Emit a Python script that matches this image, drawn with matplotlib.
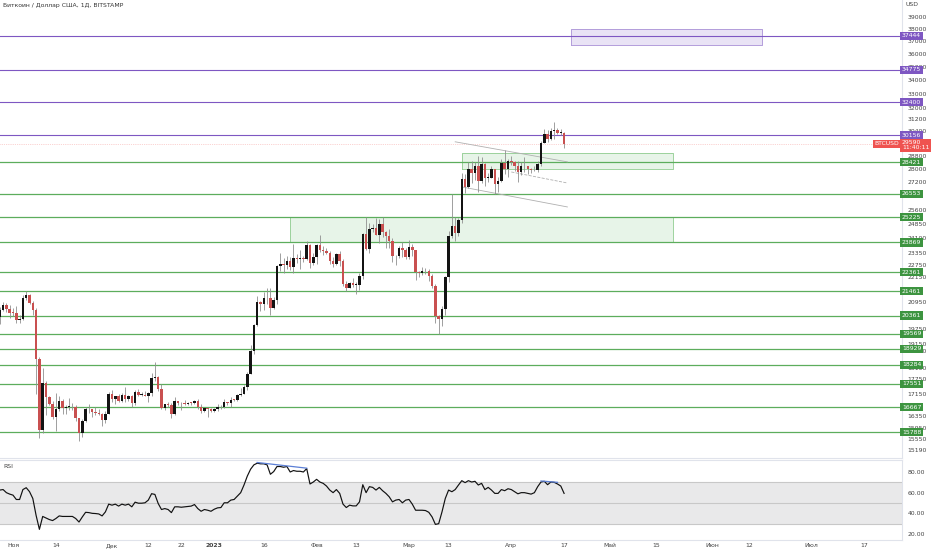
import numpy as np
import matplotlib
matplotlib.use('Agg')
import matplotlib.pyplot as plt
import matplotlib.dates as mdates
import matplotlib.transforms as mtransforms

# --- data (daily BTC/USD, Bitstamp) ---
start_day = '2022-10-28'
end_day = '2023-04-18'

opens = [20290, 20590, 20820, 20630,
         20490, 20480, 20150, 20210, 21150, 21300, 20910, 20590, 18540, 15880, 17590, 17050, 16810, 16330, 16620,
         16900, 16660, 16690, 16700, 16680, 16280, 15780, 16190, 16610, 16600, 16520, 16460, 16440, 16220, 16440,
         17160, 16980, 17090, 16890, 17110, 16970, 17090, 16840, 17220, 17130, 17130, 17090, 17200, 17780, 17810,
         17360, 16630, 16780, 16740, 16440, 16900, 16820, 16830, 16780, 16840, 16830, 16910, 16700, 16540, 16630, 16600,
         16540, 16610, 16670, 16670, 16850, 16830, 16950, 16940, 17120, 17180, 17440, 17940, 18850, 19930, 20960,
         20880, 21170, 21140, 20680, 21080, 22680, 22780, 22710, 22920, 22630, 23060, 23010, 23080, 23030, 23750, 22840,
         23130, 23730, 23480, 23430, 23330, 22930, 22760, 23260, 22950, 21800, 21630, 21860, 21780, 21780, 22200,
         24330, 23530, 24570, 24630, 24280, 24840, 24440, 24190, 23940, 23180, 23160, 23560, 23490,
         23150, 23650, 23470, 22360, 22350, 22430, 22410, 22200, 21700, 20360, 20190, 20630, 22160, 24200, 24750,
         24380, 25060, 27420, 26960, 28040, 27770, 28170, 27300, 28330, 27490, 27490, 28000, 27140, 27270, 28350, 28030,
         28480, 28450, 28200, 27810, 28170, 28170, 28040, 27920, 27950, 28330, 29660, 30240, 29890, 30400, 30490,
         30320, 30320]
highs = [20750, 20990, 20920, 20840,
         20700, 20800, 20390, 21300, 21470, 21360, 21000, 20680, 18590, 18150, 17660, 17080, 16920, 17190, 17080,
         16980, 16760, 17010, 16820, 16740, 16300, 16250, 16680, 16800, 16610, 16700, 16600, 16480, 16530, 17240,
         17320, 17100, 17160, 17200, 17420, 17110, 17140, 17300, 17350, 17230, 17260, 17240, 17970, 18390, 17850,
         17530, 16800, 16870, 16820, 17060, 16920, 16880, 16950, 16870, 16870, 16950, 16960, 16780, 16660, 16640, 16640,
         16630, 16790, 16760, 16980, 16880, 17040, 16980, 17180, 17390, 17490, 18000, 19100, 19980, 21260, 21020,
         21450, 21620, 21640, 21180, 22750, 23330, 23080, 23180, 23150, 23800, 23290, 23500, 23160, 23960, 23800, 23320,
         23780, 24250, 23700, 23580, 23430, 23150, 23350, 23440, 23010, 21930, 21900, 22090, 21890, 22320, 24380,
         25250, 24880, 24870, 25180, 25120, 25250, 24480, 24600, 24130, 23210, 23680, 23880, 23600,
         23980, 23780, 23480, 22410, 22620, 22560, 22540, 22270, 21830, 20370, 20800, 22180, 24500, 26500, 25250,
         25200, 27750, 27730, 28430, 28500, 28470, 28800, 28770, 28380, 27790, 28190, 28020, 27500, 28650, 29170, 28650,
         28800, 28500, 28480, 28440, 28760, 28180, 28100, 28170, 28480, 29770, 30560, 30470, 30600, 31000, 30600,
         30550, 30340]
lows = [20000, 20560, 20520, 20250,
        20340, 20050, 20050, 20180, 21080, 20880, 20400, 17170, 15590, 15760, 16400, 16750, 16250, 15820, 16540,
        16420, 16420, 16560, 16560, 16180, 15480, 15630, 16160, 16460, 16330, 16410, 16400, 16000, 16110, 16430,
        16860, 16800, 16860, 16880, 16870, 16910, 16680, 16740, 17090, 17100, 17070, 16870, 17080, 17660, 17280,
        16600, 16580, 16670, 16280, 16400, 16750, 16560, 16760, 16760, 16740, 16790, 16600, 16470, 16500, 16340, 16490,
        16500, 16550, 16600, 16660, 16750, 16680, 16910, 16920, 17100, 17150, 17310, 17920, 18720, 19890, 20570,
        20620, 20860, 20400, 20650, 20880, 22420, 22330, 22530, 22460, 22350, 22850, 22540, 22890, 23000, 22560, 22730,
        22760, 23400, 23220, 23260, 22760, 22640, 22730, 22680, 21720, 21460, 21600, 21650, 21350, 21540, 22050,
        23500, 23340, 24440, 24250, 23850, 24160, 23580, 23600, 22860, 22750, 23080, 23110, 23030,
        23030, 23200, 21980, 22140, 22230, 22300, 21960, 21600, 20050, 19570, 19880, 20400, 21900, 24100, 23930,
        24200, 24900, 26600, 26880, 27150, 27370, 26640, 27150, 27020, 27230, 27460, 26520, 26650, 27250, 27700, 27550,
        28250, 27870, 27250, 27670, 27850, 27730, 27790, 27890, 27800, 28170, 29640, 29700, 29850, 29900, 30230,
        30140, 29300]
closes = [20590, 20820, 20630, 20490,
          20480, 20150, 20210, 21150, 21300, 20910, 20590, 18540, 15880, 17590, 17050, 16810, 16330, 16620, 16900,
          16660, 16690, 16700, 16680, 16280, 15780, 16190, 16610, 16600, 16520, 16460, 16440, 16220, 16440, 17160,
          16980, 17090, 16890, 17110, 16970, 17090, 16840, 17220, 17130, 17130, 17090, 17200, 17780, 17810, 17360,
          16630, 16780, 16740, 16440, 16900, 16820, 16830, 16780, 16840, 16830, 16910, 16700, 16540, 16630, 16600, 16540,
          16610, 16670, 16670, 16850, 16830, 16950, 16940, 17120, 17180, 17440, 17940, 18850, 19930, 20960, 20880,
          21170, 21140, 20680, 21080, 22680, 22780, 22710, 22920, 22630, 23060, 23010, 23080, 23030, 23750, 22840, 23130,
          23730, 23480, 23430, 23330, 22930, 22760, 23260, 22950, 21800, 21630, 21860, 21780, 21780, 22200, 24330,
          23530, 24570, 24630, 24280, 24840, 24440, 24190, 23940, 23180, 23160, 23560, 23490, 23150,
          23650, 23470, 22360, 22350, 22430, 22410, 22200, 21700, 20360, 20190, 20630, 22160, 24200, 24750, 24380,
          25060, 27420, 26960, 28040, 27770, 28170, 27300, 28330, 27490, 27490, 28000, 27140, 27270, 28350, 28030, 28480,
          28450, 28200, 27810, 28170, 28170, 28040, 27920, 27950, 28330, 29660, 30240, 29890, 30400, 30490, 30320,
          30320, 29590]
rsi = [62.5, 63, 60, 58.6,
       57.6, 53.4, 53.4, 63, 64.8, 61, 54.4, 38, 24.5, 37, 35.5, 34, 33, 35, 37.5, 37, 37, 37, 37, 35, 31.6,
       36.5, 41, 40.7, 40, 39.8, 39.4, 37.5, 41.4, 48.9,
       47.9, 48.9, 47, 48.9, 47.9, 48.9, 46.3, 50.8, 49.8, 49.8, 50.2, 52.8, 59, 58.3, 49.5, 43.7, 44.6, 43.7,
       40.7, 46.3, 46.3, 45.9, 46.3, 46.6, 47, 48.5, 44.6, 42, 43.7, 43, 42,
       44, 45.3, 45.6, 50.2, 50.2, 52.8, 53.4, 56.7, 60, 67.4, 76, 82.7, 86.9, 88.5, 87.9, 87.9, 86.9, 77.8,
       80.4, 85.3, 85.3, 84.6, 85.3, 80, 81.4, 80.7, 80.7, 80, 83.3, 68.4, 70.3,
       72.9, 70.3, 69, 66.4, 62.5, 60, 63, 59.3, 48.9, 45.6, 47.9, 47.2, 47.2, 51.1, 67.7, 60, 65.8, 65.1, 62.5,
       65.1, 61.9, 59.3, 56, 51.1, 52.8, 53.4, 50.2, 52.8,
       53.4, 48.9, 43, 43, 43, 42.7, 41, 36.5, 29.3, 30, 41.4, 54.4, 62.5, 60.9, 63, 67.4, 71.6, 69.7, 71.6,
       70.3, 71, 67.4, 69, 63, 65.1, 62.5, 59.3, 59.3, 63, 61.9, 63.8,
       63, 60.9, 58.9, 60, 60, 59.3, 58.6, 60, 65.8, 70.3, 71, 67.7, 70.3, 70, 68.4, 66.4, 59.3]

purple_levels = [37444, 34775, 32400, 30156]
green_levels = [28421, 26553, 25225, 23869, 22361, 21461, 20361, 19569, 18929, 18284, 17551, 16667, 15788]
last_price = 29590
countdown = '11:40:11'

# price scale labels (those fully hidden behind level badges left out)
price_ticks = [39000, 38000, 37000, 36000, 35000, 34000, 33000, 32000, 31200, 30400, 28800, 28000, 27200,
               25600, 24850, 24100, 23350, 22750, 22150, 20950, 19750, 19150, 18850,
               18150, 17750, 17150, 16350, 15950, 15550, 15190]
rsi_ticks = [80, 60, 40, 20]

xtick_dates = ['2022-11-01', '2022-11-14', '2022-12-01', '2022-12-12', '2022-12-22', '2023-01-01',
               '2023-01-16', '2023-02-01', '2023-02-13', '2023-03-01', '2023-03-13', '2023-04-01',
               '2023-04-17', '2023-05-01', '2023-05-15', '2023-06-01', '2023-06-12', '2023-07-01', '2023-07-17']
xtick_labels = ['Ноя', '14', 'Дек', '12', '22', '2023', '16', 'Фев', '13', 'Мар', '13', 'Апр',
                '17', 'Май', '15', 'Июн', '12', 'Июл', '17']

# drawings: (start date, end date, low, high)
zones_green = [('2023-03-17', '2023-05-20', 27990, 28980),
               ('2023-01-24', '2023-05-20', 23869, 25225)]
zone_purple = ('2023-04-19', '2023-06-16', 36690, 37990)
trend_lines = [('2023-03-15', 29720, '2023-04-18', 28450, '-'),
               ('2023-04-01', 27830, '2023-04-18', 27170, '--'),
               ('2023-03-17', 26940, '2023-04-18', 25790, '-')]
rsi_div = [('2023-01-14', 89.2, '2023-01-29', 83.7),
           ('2023-04-10', 71.3, '2023-04-15', 70.0)]

# --- plotting ---
plt.rcParams['font.family'] = ['DejaVu Sans']
FS = 4.4
UP = '#131313'
DOWN = '#c95050'
WICK = '#8f8f8f'
PURPLE = '#7e57c2'
GREEN_LINE = '#5cad5c'
GREEN_BADGE = '#3d9440'
GRID = '#e0e3eb'
TXT = '#444444'

dates = np.arange(start_day, end_day, dtype='datetime64[D]')
x = mdates.date2num(dates.astype('datetime64[s]').astype(object))
o = np.array(opens, float)
h = np.array(highs, float)
l = np.array(lows, float)
c = np.array(closes, float)
up = c >= o

def dn(s):
    return mdates.date2num(np.datetime64(s).astype('datetime64[s]').astype(object))

fig = plt.figure(figsize=(9.32, 5.5), dpi=100, facecolor='white')
W, H = 932.0, 550.0
ax = fig.add_axes([0, 1 - 458 / H, 902 / W, 458 / H])
ax2 = fig.add_axes([0, 1 - 540 / H, 902 / W, 80 / H], sharex=ax)

x0 = dn('2022-11-01')
ax.set_xlim(x0 - 3.94, x0 + 269.4)
ax.set_yscale('log')
ax.set_ylim(14930, 40470)

# candles
ax.vlines(x, l, h, color=WICK, lw=0.6, zorder=2)
body_lo = np.minimum(o, c)
body_h = np.maximum(np.abs(c - o), o * 0.0012)
ax.bar(x[up], body_h[up], bottom=body_lo[up], width=0.74, color=UP, lw=0, zorder=3)
ax.bar(x[~up], body_h[~up], bottom=body_lo[~up], width=0.74, color=DOWN, lw=0, zorder=3)

# horizontal levels
for lv in purple_levels:
    ax.axhline(lv, color=PURPLE, lw=0.8, zorder=1)
for lv in green_levels:
    ax.axhline(lv, color=GREEN_LINE, lw=0.9, zorder=1)

# zones
for s, e, lo, hi in zones_green:
    ax.fill_between([dn(s), dn(e)], lo, hi, color='#4caf50', alpha=0.13, lw=0, zorder=0.5)
    ax.plot([dn(s), dn(e), dn(e), dn(s), dn(s)], [lo, lo, hi, hi, lo], color='#8fcc8f', lw=0.6, zorder=0.6)
s, e, lo, hi = zone_purple
ax.fill_between([dn(s), dn(e)], lo, hi, color='#9575cd', alpha=0.2, lw=0, zorder=0.5)
ax.plot([dn(s), dn(e), dn(e), dn(s), dn(s)], [lo, lo, hi, hi, lo], color='#b39ddb', lw=0.7, zorder=0.6)

for s, p1, e, p2, ls in trend_lines:
    ax.plot([dn(s), dn(e)], [p1, p2], color='#b0b0b0', lw=0.6, ls=ls, zorder=1.5)

# last price line
ax.axhline(last_price, color='#ef5350', lw=0.5, ls=':', alpha=0.5, zorder=1)

# axes style
for a in (ax, ax2):
    for sp in a.spines.values():
        sp.set_color(GRID)
        sp.set_linewidth(0.8)
    a.spines['left'].set_visible(False)
    a.set_facecolor('white')
ax.spines['top'].set_visible(False)

ax.yaxis.tick_right()
ax.set_yticks(price_ticks)
ax.set_yticklabels([str(t) for t in price_ticks])
ax.yaxis.set_minor_locator(matplotlib.ticker.NullLocator())
ax.tick_params(axis='y', length=0, labelsize=FS, labelcolor=TXT, pad=4)
ax.tick_params(axis='x', length=0, labelbottom=False)

# badges on price axis
btr = mtransforms.blended_transform_factory(ax.transAxes, ax.transData)
for lv in purple_levels:
    ax.text(1.0, lv, str(lv), transform=btr, ha='left', va='center', fontsize=FS, color='white',
            clip_on=False, zorder=5,
            bbox=dict(boxstyle='square,pad=0.25', fc=PURPLE, ec='none'))
for lv in green_levels:
    ax.text(1.0, lv, str(lv), transform=btr, ha='left', va='center', fontsize=FS, color='white',
            clip_on=False, zorder=5,
            bbox=dict(boxstyle='square,pad=0.25', fc=GREEN_BADGE, ec='none'))
off = mtransforms.ScaledTranslation(0, 2.6 / 72, fig.dpi_scale_trans)
ax.text(1.0, last_price, '%d\n%s' % (last_price, countdown), transform=btr + off, ha='left', va='top',
        fontsize=FS, color='white', linespacing=1.0, clip_on=False, zorder=6,
        bbox=dict(boxstyle='square,pad=0.25', fc='#ef5350', ec='none'))
ax.text(0.9965, last_price, 'BTCUSD', transform=btr, ha='right', va='center', fontsize=FS,
        color='white', clip_on=False, zorder=6,
        bbox=dict(boxstyle='square,pad=0.25', fc='#ef5350', ec='none'))

fig.text(3 / W, 1 - 5 / H, 'Биткоин / Доллар США, 1Д, BITSTAMP', fontsize=FS, color='#333333',
         ha='left', va='center')
fig.text(905 / W, 1 - 5 / H, 'USD', fontsize=FS, color=TXT, ha='left', va='center')

# RSI panel
ax2.set_ylim(14.2, 91.6)
ax2.axhspan(30, 70, color='#e9e9ea', lw=0, zorder=0)
for lv in (70, 50, 30):
    ax2.axhline(lv, color='#c8c8c8', lw=0.8, zorder=0.5)
ax2.plot(x, rsi, color='#111111', lw=0.85, zorder=3)
for s, v1, e, v2 in rsi_div:
    ax2.plot([dn(s), dn(e)], [v1, v2], color='#5b7fd6', lw=0.9, zorder=4)
ax2.yaxis.tick_right()
ax2.set_yticks(rsi_ticks)
ax2.set_yticklabels(['%.2f' % t for t in rsi_ticks])
ax2.tick_params(axis='y', length=0, labelsize=FS, labelcolor=TXT, pad=4)
ax2.set_xticks([dn(d) for d in xtick_dates])
ax2.set_xticklabels(xtick_labels)
ax2.tick_params(axis='x', length=0, labelsize=FS, labelcolor=TXT, pad=2.5)
for lab in ax2.get_xticklabels():
    if lab.get_text() == '2023':
        lab.set_fontweight('bold')
ax2.text(3 / 902, 1 - 6 / 80, 'RSI', transform=ax2.transAxes, fontsize=FS, color=TXT, ha='left', va='center')

fig.savefig('out.png', dpi=100, facecolor='white')
